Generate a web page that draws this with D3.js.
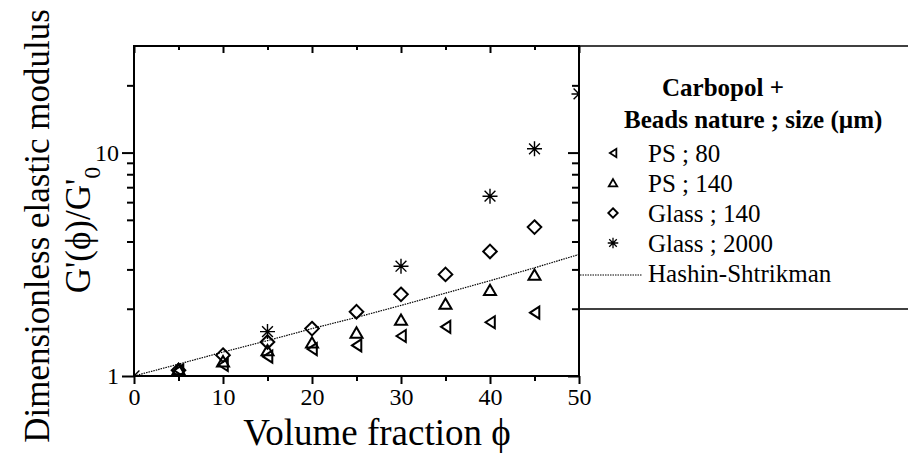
<!DOCTYPE html>
<html>
<head>
<meta charset="utf-8">
<script src="https://cdn.jsdelivr.net/npm/d3@7/dist/d3.min.js"></script>
<style>
  html, body { margin: 0; padding: 0; background: #fff; }
  svg { display: block; font-family: "Liberation Serif", "Times New Roman", serif; }
</style>
</head>
<body>
<svg id="chart" width="908" height="454"></svg>
<script>
// ---- Data ----
const phiPS80 = [5, 10, 15, 20, 25, 30, 35, 40, 45];
const valPS80 = [1.06, 1.12, 1.22, 1.32, 1.37, 1.51, 1.66, 1.74, 1.92];

const phiPS140 = [5, 10, 15, 20, 25, 30, 35, 40, 45];
const valPS140 = [1.07, 1.16, 1.30, 1.41, 1.56, 1.78, 2.10, 2.42, 2.83];

const phiGlass140 = [5, 10, 15, 20, 25, 30, 35, 40, 45];
const valGlass140 = [1.06, 1.24, 1.42, 1.63, 1.94, 2.32, 2.85, 3.61, 4.64];

const phiGlass2000 = [0, 15, 30, 40, 45, 50];
const valGlass2000 = [1.0, 1.58, 3.10, 6.38, 10.4, 18.3];

const phiHS = [0, 5, 10, 15, 20, 25, 30, 35, 40, 45, 50];
const valHS = [1.0, 1.13, 1.28, 1.44, 1.63, 1.83, 2.07, 2.35, 2.67, 3.05, 3.5];

const xMajorTicks = [0, 10, 20, 30, 40, 50];
const xMinorTicks = [5, 15, 25, 35, 45];
const yMajorTicks = [1, 10];
const yMinorTicks = [2, 3, 4, 5, 6, 7, 8, 9, 20];

const legendTitle = ["Carbopol +", "Beads nature ; size (\u00b5m)"];
const seriesNames = ["PS ; 80", "PS ; 140", "Glass ; 140", "Glass ; 2000", "Hashin-Shtrikman"];

// ---- Layout ----
const svg = d3.select("#chart");
const L = 134, R = 579, T = 46, B = 376;
const x = d3.scaleLinear().domain([0, 50]).range([L, R]);
const y = d3.scaleLog().domain([1, 30]).range([B, T]);

svg.append("defs").append("clipPath").attr("id", "plotclip")
  .append("rect").attr("x", L).attr("y", T).attr("width", R - L).attr("height", B - T);

// ---- Axes ----
function styleAxis(g, sw) {
  g.select(".domain").remove();
  g.selectAll(".tick line").attr("stroke", "#000").attr("stroke-width", sw);
  g.selectAll(".tick text").attr("fill", "#000").attr("font-size", 24)
    .attr("font-family", "'Liberation Serif','Times New Roman',serif");
}
svg.append("g").attr("transform", `translate(0,${B})`)
  .call(d3.axisBottom(x).tickValues(xMajorTicks).tickSize(8).tickPadding(4).tickFormat(d3.format("d")))
  .call(g => styleAxis(g, 2));
svg.append("g").attr("transform", `translate(0,${B})`)
  .call(d3.axisBottom(x).tickValues(xMinorTicks).tickSize(5).tickFormat(""))
  .call(g => styleAxis(g, 2));
svg.append("g").attr("transform", `translate(0,${T})`)
  .call(d3.axisTop(x).tickValues(xMajorTicks).tickSize(-7).tickFormat(""))
  .call(g => styleAxis(g, 2));
svg.append("g").attr("transform", `translate(0,${T})`)
  .call(d3.axisTop(x).tickValues(xMinorTicks).tickSize(-4).tickFormat(""))
  .call(g => styleAxis(g, 2));
svg.append("g").attr("transform", `translate(${L},0)`)
  .call(d3.axisLeft(y).tickValues(yMajorTicks).tickSize(12).tickPadding(3).tickFormat(d3.format("d")))
  .call(g => styleAxis(g, 2));
svg.append("g").attr("transform", `translate(${L},0)`)
  .call(d3.axisLeft(y).tickValues(yMinorTicks).tickSize(7).tickFormat(""))
  .call(g => styleAxis(g, 2));
svg.append("g").attr("transform", `translate(${R},0)`)
  .call(d3.axisRight(y).tickValues(yMajorTicks).tickSize(-11).tickFormat(""))
  .call(g => styleAxis(g, 2));
svg.append("g").attr("transform", `translate(${R},0)`)
  .call(d3.axisRight(y).tickValues(yMinorTicks).tickSize(-7).tickFormat(""))
  .call(g => styleAxis(g, 2));

svg.append("rect").attr("x", L).attr("y", T).attr("width", R - L).attr("height", B - T)
  .attr("fill", "none").attr("stroke", "#000").attr("stroke-width", 2);

svg.append("line").attr("x1", R).attr("x2", 908).attr("y1", T).attr("y2", T)
  .attr("stroke", "#000").attr("stroke-width", 1.5);
svg.append("line").attr("x1", R).attr("x2", 908).attr("y1", 309).attr("y2", 309)
  .attr("stroke", "#000").attr("stroke-width", 1.5);

// ---- Symbols ----
function symPath(type, s) {
  switch (type) {
    case "left": return `M${-4.5*s},0 L${4.8*s},${-6*s} L${4.8*s},${6*s} Z`;
    case "up": return `M0,${-5.5*s} L${6*s},${4.8*s} L${-6*s},${4.8*s} Z`;
    case "diamond": return `M0,${-6.8*s} L${6.8*s},0 L0,${6.8*s} L${-6.8*s},0 Z`;
    case "star": {
      const r = 7.5*s, d = r*0.72;
      return `M0,${-r} L0,${r} M${-r},0 L${r},0 M${-d},${-d} L${d},${d} M${-d},${d} L${d},${-d}`;
    }
  }
}

const line = d3.line().x((d, i) => x(phiHS[i])).y(d => y(d));
svg.append("path").datum(valHS).attr("d", line)
  .attr("fill", "none").attr("stroke", "#000").attr("stroke-width", 1.2)
  .attr("stroke-dasharray", "1.5,1");

const series = [
  { phi: phiPS80, val: valPS80, type: "left", sw: 2 },
  { phi: phiPS140, val: valPS140, type: "up", sw: 2 },
  { phi: phiGlass140, val: valGlass140, type: "diamond", sw: 2 },
  { phi: phiGlass2000, val: valGlass2000, type: "star", sw: 1.4 }
];
const mg = svg.append("g").attr("clip-path", "url(#plotclip)");
series.forEach(s => {
  mg.selectAll(null).data(s.val).enter().append("path")
    .attr("transform", (d, i) => `translate(${x(s.phi[i])},${y(d)})`)
    .attr("d", symPath(s.type, 1))
    .attr("fill", "none").attr("stroke", "#000").attr("stroke-width", s.sw)
    .attr("stroke-linejoin", "miter");
});

// ---- Legend ----
const lg = svg.append("g");
lg.append("text").attr("x", 662).attr("y", 96).attr("font-size", 25).attr("font-weight", "bold")
  .text(legendTitle[0]);
lg.append("text").attr("x", 624).attr("y", 128).attr("font-size", 25).attr("font-weight", "bold")
  .text(legendTitle[1]);
const rowY = [153, 183, 213, 243, 273];
series.forEach((s, i) => {
  lg.append("path").attr("transform", `translate(613,${rowY[i]})`)
    .attr("d", symPath(s.type, 0.7))
    .attr("fill", "none").attr("stroke", "#000").attr("stroke-width", s.type === "star" ? 1.3 : 1.8);
});
lg.append("line").attr("x1", 580).attr("x2", 642).attr("y1", rowY[4] + 2).attr("y2", rowY[4] + 2)
  .attr("stroke", "#000").attr("stroke-width", 1).attr("stroke-dasharray", "1.5,1");
seriesNames.forEach((n, i) => {
  lg.append("text").attr("x", 648).attr("y", rowY[i]).attr("dy", "0.35em")
    .attr("font-size", 25).text(n);
});

// ---- Axis titles ----
svg.append("text").attr("x", 377).attr("y", 445).attr("text-anchor", "middle")
  .attr("font-size", 37).text("Volume fraction \u03d5");

svg.append("text").attr("transform", "translate(37,226) rotate(-90)")
  .attr("text-anchor", "middle").attr("dy", "0.35em").attr("font-size", 35)
  .text("Dimensionless elastic modulus");
const t2 = svg.append("text").attr("transform", "translate(78,230) rotate(-90)")
  .attr("text-anchor", "middle").attr("dy", "0.35em").attr("font-size", 35);
t2.append("tspan").text("G'(\u03d5)/G'");
t2.append("tspan").attr("font-size", 24).attr("dy", "0.4em").text("0");
</script>
</body>
</html>
